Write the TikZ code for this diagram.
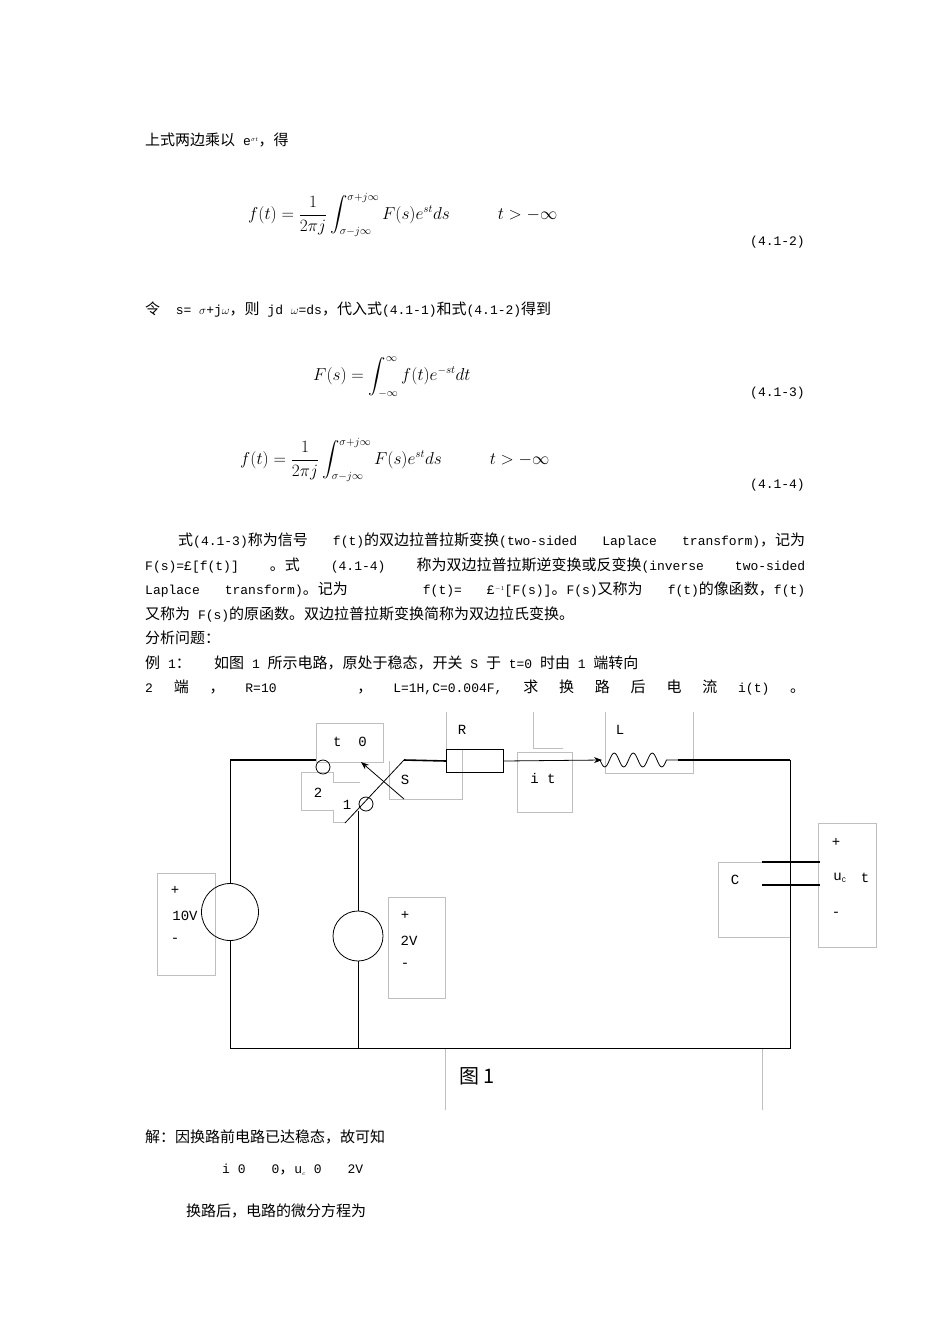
\documentclass[tikz,border=0pt]{standalone}
\usepackage{fontspec}
\usepackage{amsmath}
\setmainfont{Liberation Mono}
\newfontfamily\cjkf{Noto Sans CJK SC}
\newcommand{\zh}[1]{{\cjkf\fontsize{15}{16}\selectfont #1}}
\usetikzlibrary{decorations.pathmorphing,arrows.meta}
\begin{document}
\begin{tikzpicture}[x=1pt,y=-1pt,
  txt/.style={anchor=west,inner sep=0pt,font=\fontsize{13}{14}\selectfont},
  eqn/.style={anchor=west,inner sep=0pt,font=\fontsize{16}{18}\selectfont},
  enum/.style={anchor=east,inner sep=0pt,font=\fontsize{13}{13}\selectfont},
  gbox/.style={draw=black!25,line width=0.5pt},
  wire/.style={line width=0.8pt},
  lbl/.style={inner sep=0pt,font=\fontsize{14}{14}\selectfont}]
\useasboundingbox[fill=white] (0,0) rectangle (950,1344);
% text
\node[txt] (t1) at (145,140) {\zh{上式两边乘以} e$^{\scriptscriptstyle\sigma t}$\zh{，得}};
\node[eqn] (e1) at (248,215) {$f(t)=\dfrac{1}{2\pi j}\displaystyle\int_{\sigma-j\infty}^{\sigma+j\infty}F(s)e^{st}ds\qquad\quad t>-\infty$};
\node[enum] (n1) at (805,242) {(4.1-2)};
\node[txt] (t2) at (145,310) {\zh{令}\ \ s= $\sigma$+j$\omega$\zh{，则} jd $\omega$=ds\zh{，代入式}(4.1-1)\zh{和式}(4.1-2)\zh{得到}};
\node[eqn] (e3) at (313,377) {$F(s)=\displaystyle\int_{-\infty}^{\infty}f(t)e^{-st}dt$};
\node[enum] (n3) at (805,393) {(4.1-3)};
\node[eqn] (e4) at (240,460) {$f(t)=\dfrac{1}{2\pi j}\displaystyle\int_{\sigma-j\infty}^{\sigma+j\infty}F(s)e^{st}ds\qquad\quad t>-\infty$};
\node[enum] (n4) at (805,485) {(4.1-4)};
\node[txt] (p1) at (178,540) {\makebox[627pt][s]{\zh{式}(4.1-3)\zh{称为信号} f(t)\zh{的双边拉普拉斯变换}(two-sided Laplace transform)\zh{，记为}}};
\node[txt] (p2) at (145,565) {\makebox[660pt][s]{F(s)=\pounds[f(t)] \zh{。式} (4.1-4) \zh{称为双边拉普拉斯逆变换或反变换}(inverse two-sided}};
\node[txt] (p3) at (145,590) {\makebox[660pt][s]{Laplace transform)\zh{。记为}\hspace{50pt} f(t)= \pounds$^{\scriptscriptstyle -1}$[F(s)]\zh{。}F(s)\zh{又称为} f(t)\zh{的像函数，}f(t)}};
\node[txt] (p4) at (145,614) {\zh{又称为} F(s)\zh{的原函数。双边拉普拉斯变换简称为双边拉氏变换。}};
\node[txt] (p5) at (145,638) {\zh{分析问题：}};
\node[txt] (p6) at (145,663) {\zh{例} 1\zh{：}\ \ \ \zh{如图} 1 \zh{所示电路，原处于稳态，开关} S \zh{于} t=0 \zh{时由} 1 \zh{端转向}};
\node[txt] (p7) at (145,688) {\makebox[660pt][s]{2 \zh{端} \zh{，} R=10\hspace{60pt} \zh{，} L=1H,C=0.004F, \zh{求} \zh{换} \zh{路} \zh{后} \zh{电} \zh{流} i(t) \zh{。}}};
\node[txt] (s1) at (145,1137) {\zh{解：因换路前电路已达稳态，故可知}};
\node[txt] (s2) at (222,1170) {i 0\hspace{26pt}0\zh{，}u$_{\scriptscriptstyle c}$ 0\hspace{26pt}2V};
\node[txt] (s3) at (186,1211) {\zh{换路后，电路的微分方程为}};
% gray boxes
\draw[gbox] (316,723) rectangle (383,762);
\draw[gbox] (333,772) -- (301,772) -- (301,810) -- (333,810) -- (333,822) -- (345,822);
\draw[gbox] (333,772) -- (333,782) -- (360,782);
\draw[gbox] (389,761) -- (389,799) -- (462,799) -- (462,749);
\draw[gbox] (446,712) -- (446,749);
\draw[gbox] (517,752) rectangle (572,812);
\draw[gbox] (533,712) -- (533,748) -- (563,748);
\draw[gbox] (605,712) -- (605,773) -- (693,773) -- (693,712);
\draw[gbox] (157,873) rectangle (215,975);
\draw[gbox] (388,897) rectangle (445,998);
\draw[gbox] (790,862) -- (718,862) -- (718,937) -- (790,937);
\draw[gbox] (818,823) rectangle (876,947);
\draw[gbox] (445,1048) -- (445,1110);
\draw[gbox] (762,1048) -- (762,1110);
% circuit
\coordinate (tl) at (230,760);
\coordinate (bl) at (230,1048);
\coordinate (br) at (790,1048);
\coordinate (tr) at (790,760);
\coordinate (mt) at (358,811);
\coordinate (mb) at (358,1048);
\coordinate (c2in) at (316,760);
\node[draw,circle,minimum size=14pt,inner sep=0pt,wire] (c2) at (323,767) {};
\node[draw,circle,minimum size=14pt,inner sep=0pt,wire] (c1) at (366,804) {};
\draw[line width=1.6pt] (tl) -- (c2in);
\node[draw,circle,minimum size=57pt,inner sep=0pt,wire] (v10) at (230,912) {};
\node[draw,circle,minimum size=50pt,inner sep=0pt,wire] (v2) at (358,936) {};
\draw[wire] (tl) -- (v10) -- (bl) -- (br) -- (tr);
\draw[wire] (mt) -- (v2) -- (mb);
\coordinate (sw1) at (345,823);
\coordinate (sw2) at (404,760);
\draw[wire] (sw1) -- (sw2);
\draw[wire,-{Stealth[length=8pt]}] (404,799) -- (361,762);
\node[draw,wire,minimum width=57pt,minimum height=23pt,inner sep=0pt] (R) at (475,761) {};
\draw[line width=1.6pt] (sw2) -- (R.west);
\draw[wire,-{Stealth[length=8pt]}] (R.east) -- (602,760);
\draw[wire,decorate,decoration={coil,aspect=0,segment length=19pt,amplitude=7pt,mirror}] (600,760) -- (678,760);
\draw[line width=1.6pt] (678,760) -- (tr);
\draw[wire] (tr) -- (790,862);
\draw[wire] (790,885) -- (790,1048);
\draw[line width=1.6pt] (762,862) -- (820,862);
\draw[line width=1.6pt] (762,885) -- (820,885);
% labels
\node[lbl] (lt0) at (350,742) {t\ \ 0};
\node[lbl] (l2) at (318,793) {2};
\node[lbl] (l1) at (347,805) {1};
\node[lbl] (lS) at (405,780) {S};
\node[lbl] (lR) at (462,730) {R};
\node[lbl] (lL) at (620,730) {L};
\node[lbl] (lit) at (543,778) {i t};
\node[lbl] (lp1) at (175,890) {+};
\node[lbl] (l10) at (185,916) {10V};
\node[lbl] (lm1) at (175,940) {-};
\node[lbl] (lp2) at (405,915) {+};
\node[lbl] (l2v) at (409,941) {2V};
\node[lbl] (lm2) at (405,965) {-};
\node[lbl] (lC) at (735,880) {C};
\node[lbl] (lpu) at (836,842) {+};
\node[lbl] (luc) at (840,878) {u$_{\scriptscriptstyle\mathrm C}$};
\node[lbl] (ltt) at (865,878) {t};
\node[lbl] (lmu) at (836,914) {-};
\node[lbl,font=\cjkf\fontsize{20}{22}\selectfont] (fig) at (477,1076) {图 1};
\end{tikzpicture}
\end{document}
